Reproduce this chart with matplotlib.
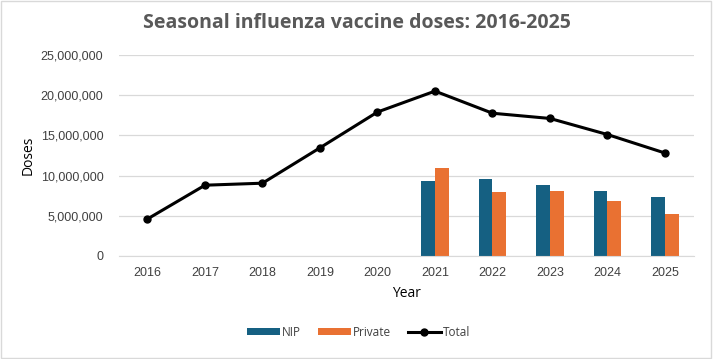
import matplotlib
matplotlib.use("Agg")
import matplotlib.pyplot as plt
from matplotlib.patches import Rectangle
from matplotlib.ticker import FuncFormatter
import numpy as np

# ── data ────────────────────────────────────────────────────────────────────
years = [2016, 2017, 2018, 2019, 2020, 2021, 2022, 2023, 2024, 2025]
total = [4.6e6, 8.8e6, 9.05e6, 13.45e6, 17.9e6, 20.5e6, 17.75e6, 17.1e6, 15.1e6, 12.8e6]
bar_years = [2021, 2022, 2023, 2024, 2025]
nip = [9.35e6, 9.6e6, 8.85e6, 8.1e6, 7.35e6]
private = [10.95e6, 7.95e6, 8.1e6, 6.85e6, 5.2e6]

NIP_COLOR = "#156082"
PRIV_COLOR = "#E97132"
TXT = "#404040"
GRID = "#D9D9D9"

plt.rcParams["font.family"] = ["Open Sans", "DejaVu Sans"]

fig = plt.figure(figsize=(7.13, 3.59), dpi=100)
ax = fig.add_axes([0.1665, 0.287, 0.8065, 0.56])

x = np.arange(len(years))
bx = np.array([years.index(y) for y in bar_years])
w = 0.24
h_nip = ax.bar(bx - w / 2, nip, width=w, color=NIP_COLOR, label="NIP", zorder=2)
h_priv = ax.bar(bx + w / 2, private, width=w, color=PRIV_COLOR, label="Private", zorder=2)
h_tot, = ax.plot(x, total, color="black", lw=2.2, marker="o", ms=5, label="Total", zorder=3)

ax.set_xlim(-0.5, len(years) - 0.5)
ax.set_ylim(0, 25e6)
ax.set_yticks(np.arange(0, 25e6 + 1, 5e6))
ax.yaxis.set_major_formatter(FuncFormatter(lambda v, p: f"{int(v):,}"))
ax.set_xticks(x)
ax.set_xticklabels([str(y) for y in years])
ax.grid(axis="y", color=GRID, lw=0.9, zorder=0)
ax.set_axisbelow(True)
for s in ["top", "right", "left"]:
    ax.spines[s].set_visible(False)
ax.spines["bottom"].set_color(GRID)
ax.tick_params(axis="y", length=0, labelsize=9, colors=TXT, pad=11)
ax.tick_params(axis="x", length=0, labelsize=9, colors=TXT, pad=8)
for lab in ax.get_xticklabels() + ax.get_yticklabels():
    lab.set_family(["Liberation Sans", "DejaVu Sans"])

ax.set_ylabel("Doses", fontsize=10, color="black", labelpad=4)
ax.set_xlabel("Year", fontsize=10, color="black", labelpad=5)

fig.suptitle("Seasonal influenza vaccine doses: 2016-2025", x=0.5, y=0.965,
             fontsize=14, fontweight="bold", color="#595959")

fig.legend([h_nip, h_priv, h_tot], ["NIP", "Private", "Total"],
           loc="center", bbox_to_anchor=(0.503, 0.075), ncol=3, frameon=False,
           fontsize=8.5, handlelength=2.8, handleheight=0.55, columnspacing=1.4,
           handletextpad=0.2, labelcolor=TXT)

fig.patches.append(Rectangle((0.002, 0.003), 0.995, 0.993, transform=fig.transFigure,
                             fill=False, edgecolor=GRID, lw=1))

fig.savefig("out.png", dpi=100)
